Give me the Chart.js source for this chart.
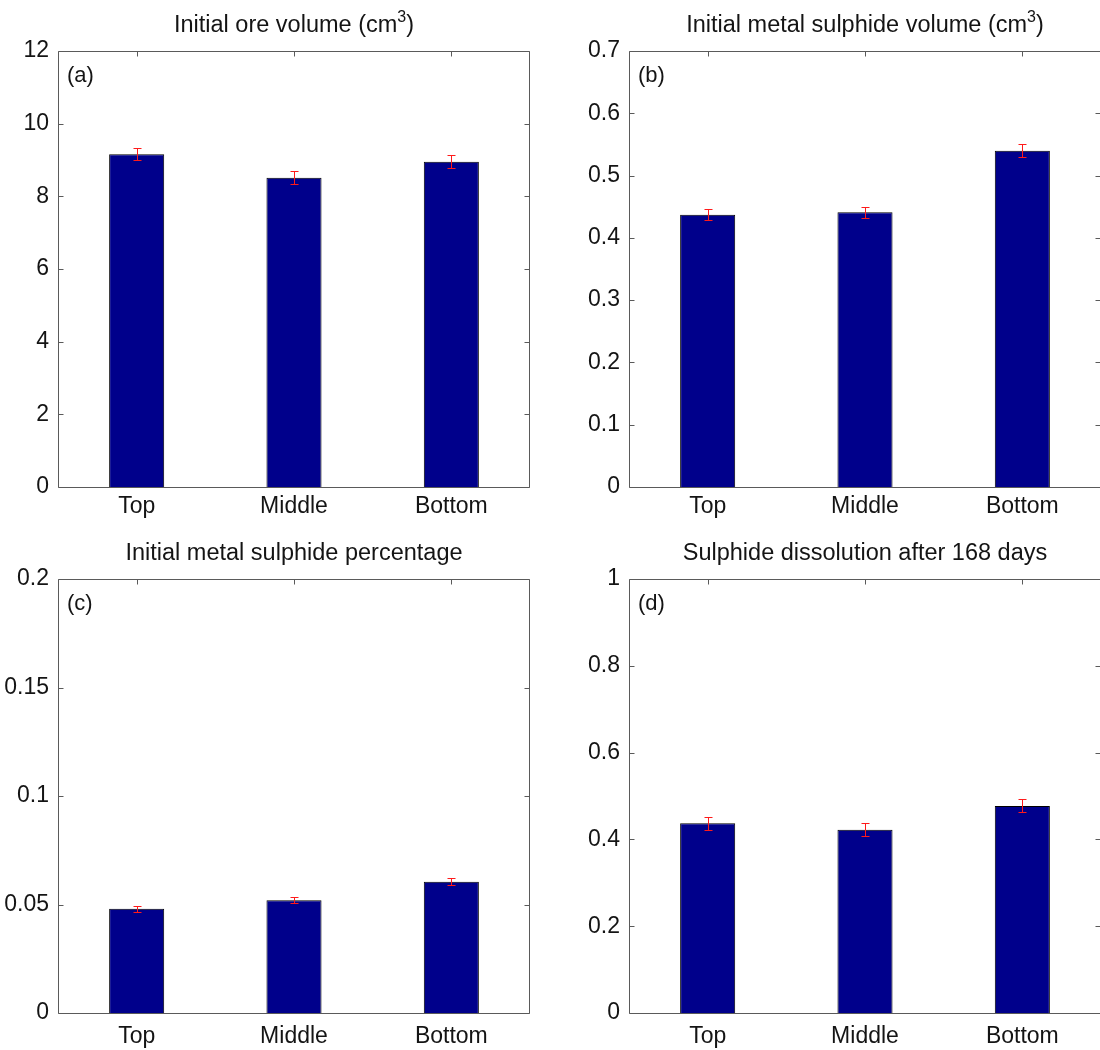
<!DOCTYPE html>
<html><head><meta charset="utf-8">
<script src="https://cdn.jsdelivr.net/npm/chart.js@4.4.0/dist/chart.umd.min.js"></script>
<style>
html,body{margin:0;padding:0;background:#fff;overflow:hidden;width:1100px;height:1050px;position:relative;}
canvas{position:absolute;}
</style></head><body>
<canvas id="pa" width="550" height="525" style="left:0;top:0"></canvas>
<canvas id="pb" width="570" height="525" style="left:550px;top:0"></canvas>
<canvas id="pc" width="550" height="525" style="left:0;top:525px"></canvas>
<canvas id="pd" width="570" height="525" style="left:550px;top:525px"></canvas>
<script>
// ---- data ----
const categories = ['Top', 'Middle', 'Bottom'];

const oreVolume = [9.16, 8.51, 8.95];
const oreVolumeErr = [0.17, 0.18, 0.18];

const sulphideVolume = [0.437, 0.441, 0.540];
const sulphideVolumeErr = [0.009, 0.009, 0.010];

const sulphidePercent = [0.048, 0.052, 0.0605];
const sulphidePercentErr = [0.0014, 0.0015, 0.0017];

const dissolution168 = [0.437, 0.422, 0.477];
const dissolution168Err = [0.015, 0.015, 0.015];

const yMaxA = 12, yStepA = 2;
const yMaxB = 0.7, yStepB = 0.1;
const yMaxC = 0.2, yStepC = 0.05;
const yMaxD = 1, yStepD = 0.2;

const titleA = [['Initial ore volume (cm', false], ['3', true], [')', false]];
const titleB = [['Initial metal sulphide volume (cm', false], ['3', true], [')', false]];
const titleC = [['Initial metal sulphide percentage', false]];
const titleD = [['Sulphide dissolution after 168 days', false]];

const letters = ['(a)', '(b)', '(c)', '(d)'];

// ---- style ----
const FONT = '"Liberation Sans", Arial, Helvetica, sans-serif';
const BAR = '#00008B';
const AXIS = '#5a5a5a';
const TXT = '#141414';

const decorPlugin = {
  id: 'decor',
  afterDatasetsDraw(chart, args, o) {
    const ctx = chart.ctx, a = chart.chartArea;
    const xs = chart.scales.x, ys = chart.scales.y;
    ctx.save();
    // frame
    ctx.strokeStyle = AXIS; ctx.lineWidth = 1;
    const L = Math.round(a.left) + 0.5, R = Math.round(a.right) - 0.5;
    const T = Math.round(a.top) + 0.5, B = Math.round(a.bottom) + 0.5;
    ctx.beginPath();
    ctx.rect(L, T, R - L, B - T);
    ctx.stroke();
    // inward ticks
    ctx.beginPath();
    ys.ticks.forEach(t => {
      const py = Math.round(ys.getPixelForValue(t.value)) + 0.5;
      ctx.moveTo(L, py); ctx.lineTo(L + 5, py);
      ctx.moveTo(R, py); ctx.lineTo(R - 5, py);
    });
    categories.forEach((c, i) => {
      const px = Math.round(xs.getPixelForValue(i)) + 0.5;
      ctx.moveTo(px, T); ctx.lineTo(px, T + 5);
    });
    ctx.stroke();
    // error bars
    const meta = chart.getDatasetMeta(0);
    const vals = chart.data.datasets[0].data;
    ctx.strokeStyle = '#ff1a1a'; ctx.lineWidth = 1;
    ctx.beginPath();
    meta.data.forEach((el, i) => {
      const x = Math.round(el.x) + 0.5;
      const yt = Math.round(ys.getPixelForValue(vals[i] + o.errors[i])) + 0.5;
      const yb = Math.round(ys.getPixelForValue(vals[i] - o.errors[i])) + 0.5;
      ctx.moveTo(x, yt); ctx.lineTo(x, yb);
      ctx.moveTo(x - 4, yt); ctx.lineTo(x + 4, yt);
      ctx.moveTo(x - 4, yb); ctx.lineTo(x + 4, yb);
    });
    ctx.stroke();
    // panel letter
    ctx.fillStyle = TXT;
    ctx.font = '22px ' + FONT;
    ctx.textAlign = 'left'; ctx.textBaseline = 'alphabetic';
    ctx.fillText(o.letter, a.left + 9, a.top + 31);
    // title with superscript
    const main = '23.5px ' + FONT, sup = '16px ' + FONT;
    let w = 0;
    o.title.forEach(([t, s]) => { ctx.font = s ? sup : main; w += ctx.measureText(t).width; });
    let x = (a.left + a.right) / 2 - w / 2;
    const by = a.top - 19;
    o.title.forEach(([t, s]) => {
      ctx.font = s ? sup : main;
      ctx.fillText(t, x, s ? by - 10 : by);
      x += ctx.measureText(t).width;
    });
    ctx.restore();
  }
};

function fmt(v) { return String(Number(v.toFixed(4))); }

function makePanel(id, values, errs, ymax, ystep, title, letter, pad, xAxisH, xPad) {
  new Chart(document.getElementById(id), {
    type: 'bar',
    data: {
      labels: categories,
      datasets: [{
        data: values,
        backgroundColor: BAR,
        borderColor: '#000000',
        borderWidth: 1,
        barPercentage: 0.35,
        categoryPercentage: 1.0
      }]
    },
    options: {
      responsive: false,
      animation: false,
      devicePixelRatio: 1,
      layout: { padding: { left: pad.left, top: pad.top, right: pad.right, bottom: 0 } },
      plugins: {
        legend: { display: false },
        title: { display: false },
        tooltip: { enabled: false },
        decor: { errors: errs, title: title, letter: letter }
      },
      scales: {
        x: {
          offset: true,
          grid: { display: false, drawTicks: false },
          border: { display: false },
          ticks: { color: TXT, font: { family: FONT, size: 23 }, padding: xPad, maxRotation: 0 },
          afterFit: s => { s.height = xAxisH; }
        },
        y: {
          min: 0, max: ymax,
          grid: { display: false, drawTicks: false },
          border: { display: false },
          ticks: { stepSize: ystep, color: TXT, font: { family: FONT, size: 23 }, padding: 9,
                   callback: v => fmt(v) },
          afterFit: s => { s.width = pad.yw; }
        }
      }
    },
    plugins: [decorPlugin]
  });
}

makePanel('pa', oreVolume, oreVolumeErr, yMaxA, yStepA, titleA, letters[0],
  { left: 0, top: 51, right: 20, yw: 58 }, 38, 6);
makePanel('pb', sulphideVolume, sulphideVolumeErr, yMaxB, yStepB, titleB, letters[1],
  { left: 0, top: 51, right: 19, yw: 79 }, 38, 6);
makePanel('pc', sulphidePercent, sulphidePercentErr, yMaxC, yStepC, titleC, letters[2],
  { left: 0, top: 54, right: 20, yw: 58 }, 37, 10);
makePanel('pd', dissolution168, dissolution168Err, yMaxD, yStepD, titleD, letters[3],
  { left: 0, top: 54, right: 19, yw: 79 }, 37, 10);
</script>
</body></html>
